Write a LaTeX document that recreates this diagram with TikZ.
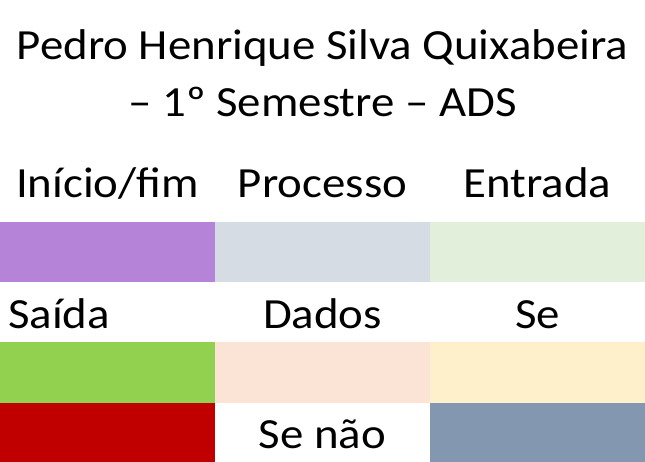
\documentclass[tikz,border=0pt]{standalone}
\usepackage{fontspec}
\setmainfont{Carlito}[FakeStretch=1.09]
\definecolor{cpurple}{HTML}{B584D8}
\definecolor{cgray}{HTML}{D5DCE4}
\definecolor{clgreen}{HTML}{E2EFDA}
\definecolor{cgreen}{HTML}{92D050}
\definecolor{cpeach}{HTML}{FBE3D6}
\definecolor{cyellow}{HTML}{FFF0CC}
\definecolor{cred}{HTML}{C00000}
\definecolor{cslate}{HTML}{8497B0}
\begin{document}
\begin{tikzpicture}[x=1pt,y=-1pt,
  lbl/.style={anchor=base,inner sep=0pt,font=\fontsize{43}{50}\selectfont},
  swatch/.style={draw=none}]
\useasboundingbox (0,0) rectangle (645,462);
\fill[white] (0,0) rectangle (645,462);
\node[lbl] (t1) at (322.5,60) {Pedro Henrique Silva Quixabeira};
\node[lbl] (t2) at (322.5,117) {– 1º Semestre – ADS};
\node[lbl] (l1) at (107.5,198) {Início/fim};
\node[lbl] (l2) at (322.5,198) {Processo};
\node[lbl] (l3) at (537.5,198) {Entrada};
\fill[cpurple] (0,222) rectangle (215,282);
\fill[cgray] (215,222) rectangle (430,282);
\fill[clgreen] (430,222) rectangle (645,282);
\node[lbl,anchor=base west] (l4) at (8,328) {Saída};
\node[lbl] (l5) at (322.5,328) {Dados};
\node[lbl] (l6) at (537.5,328) {Se};
\fill[cgreen] (0,342) rectangle (215,403);
\fill[cpeach] (215,342) rectangle (430,403);
\fill[cyellow] (430,342) rectangle (645,403);
\fill[cred] (0,403) rectangle (215,462);
\fill[cslate] (430,403) rectangle (645,462);
\node[lbl] (l7) at (322.5,448) {Se não};
\end{tikzpicture}
\end{document}
